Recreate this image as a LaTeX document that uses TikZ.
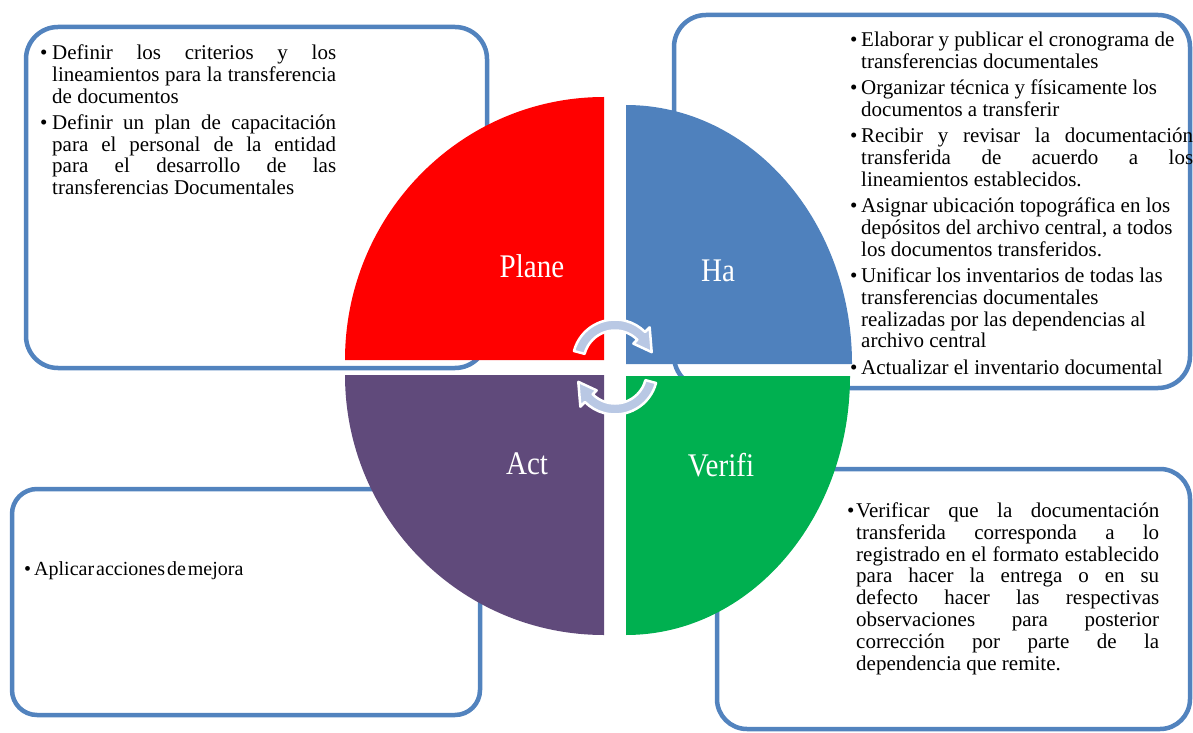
\documentclass[tikz,border=0pt]{standalone}
\usepackage{fontspec}
\setmainfont{Liberation Serif}
\newfontfamily\phasefont[FakeStretch=0.88]{Liberation Serif}
\usepackage{tikz}
\usetikzlibrary{positioning}

\definecolor{planred}{RGB}{255,0,0}
\definecolor{hablue}{RGB}{79,129,189}
\definecolor{actpurple}{RGB}{96,74,123}
\definecolor{verigreen}{RGB}{0,176,80}
\definecolor{boxblue}{RGB}{82,131,190}
\definecolor{cyclefill}{RGB}{185,200,228}

\newlength{\bhang}
\newcommand{\boxfont}{\fontsize{21}{21.8}\selectfont}
\newcommand{\bsetup}[1]{\setlength{\bhang}{#1}\setlength{\parskip}{4.5pt}\tolerance=9999 \hyphenpenalty=10000 \emergencystretch=12pt}
\newcommand{\bitem}[1]{\par\hangindent=\bhang\hangafter=1\noindent\makebox[\bhang][l]{\textbullet}\rule{0pt}{15pt}#1\par}

\begin{document}
\begin{tikzpicture}[x=1pt, y=1pt,
  box/.style={draw=boxblue, line width=4.5pt, rounded corners=#1},
  box/.default=32pt,
  quarter/.style={fill=#1, draw=none},
  phase/.style={text=white, font=\phasefont\fontsize{33}{33}\selectfont, inner sep=0pt},
  bullets/.style={anchor=north west, inner sep=0pt, text width=#1, align=justify, font=\boxfont},
  cycle arrow/.style={fill=cyclefill, draw=white, line width=2.5pt, line join=round}]

\useasboundingbox (0,0) rectangle (1193,732);

\draw[box] (26,705) rectangle (487,364);
\draw[box] (674,717) rectangle (1190,344);
\draw[box=25pt] (12,243) rectangle (480,17);
\draw[box=30pt] (717,263) rectangle (1190,3);

\fill[quarter=planred] (604,372) -- (345,372) arc[start angle=180, end angle=90, x radius=259, y radius=263] -- cycle;
\fill[quarter=hablue] (626,368) -- (626,627) arc[start angle=90, end angle=0, x radius=226, y radius=259] -- cycle;
\fill[quarter=actpurple] (604,357) -- (604,97) arc[start angle=270, end angle=180, x radius=259, y radius=260] -- cycle;
\fill[quarter=verigreen] (626,356) -- (850,356) arc[start angle=0, end angle=-90, x radius=224, y radius=259] -- cycle;

\foreach \cy/\rot in {370/0, 360/180}
  \filldraw[cycle arrow, shift={(615,\cy)}, rotate=\rot]
    (165:42.5) arc[start angle=165, end angle=45, radius=42.5] -- (45:49) -- (15:38)
    -- (45:26) -- (45:31.5) arc[start angle=45, end angle=165, radius=31.5] -- cycle;

\node[phase] (plane) at (532,466) {Plane};
\node[phase] (ha) at (718,461) {Ha};
\node[phase] (act) at (527,268) {Act};
\node[phase] (verifi) at (721,267) {Verifi};

\node[bullets=296pt] (planetext) at (40,699) {\bsetup{12pt}%
\bitem{Definir los criterios y los\linebreak lineamientos para la transferencia\linebreak de documentos}
\bitem{Definir un plan de capacitación\linebreak para el personal de la entidad\linebreak para el desarrollo de las\linebreak transferencias Documentales}};

\node[bullets=343pt] (hatext) at (850,712) {\bsetup{11pt}%
\bitem{Elaborar y publicar el cronograma de\newline transferencias documentales}
\bitem{Organizar técnica y físicamente los\newline documentos a transferir}
\bitem{Recibir y revisar la documentación\linebreak transferida de acuerdo a los\linebreak lineamientos establecidos.}
\bitem{Asignar ubicación topográfica en los\newline depósitos del archivo central, a todos\newline los documentos transferidos.}
\bitem{Unificar los inventarios de todas las\newline transferencias documentales\newline realizadas por las dependencias al\newline archivo central}
\bitem{Actualizar el inventario documental}};

\node[bullets=312pt] (verifitext) at (847,241) {\bsetup{9pt}%
\bitem{Verificar que la documentación\linebreak transferida corresponda a lo\linebreak registrado en el formato establecido\linebreak para hacer la entrega o en su\linebreak defecto hacer las respectivas\linebreak observaciones para posterior\linebreak corrección por parte de la\linebreak dependencia que remite.}};

\node[anchor=base west, inner sep=0pt, font=\fontsize{20}{22}\selectfont] (acttext) at (24,157)
  {\spaceskip=2pt plus 1pt\textbullet\hspace{3pt}Aplicar acciones de mejora};

\end{tikzpicture}
\end{document}
